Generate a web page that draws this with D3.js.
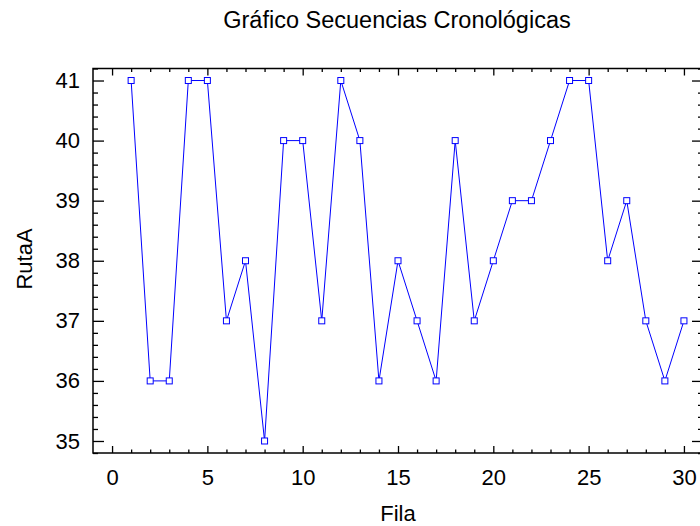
<!DOCTYPE html>
<html>
<head>
<meta charset="utf-8">
<script src="https://cdn.jsdelivr.net/npm/d3@7"></script>
<style>
  body { margin: 0; background: #fff; }
  svg { display: block; }
  svg text { font-family: "Liberation Sans", Arial, sans-serif; fill: #000; }
</style>
</head>
<body>
<div id="chart"></div>
<script>
const rows = d3.range(1, 31);
const rutaA = [41, 36, 36, 41, 41, 37, 38, 35, 40, 40, 37, 41, 40, 36, 38,
               37, 36, 40, 37, 38, 39, 39, 40, 41, 41, 38, 39, 37, 36, 37];
const xTicks = [0, 5, 10, 15, 20, 25, 30];
const yTicks = [35, 36, 37, 38, 39, 40, 41];

const W = 700, H = 526;
const plotL = 93, plotR = 703, plotT = 68.5, plotB = 453;

const svg = d3.select("#chart").append("svg")
  .attr("width", W).attr("height", H);

const x = d3.scaleLinear().domain([-1, 31]).range([plotL, plotR]);
const y = d3.scaleLinear().domain([34.8, 41.2]).range([plotB, plotT]);

const xMinor = d3.range(0, 31).filter((d) => d % 5 !== 0);
const yMinor = d3.range(34.8, 41.21, 0.2).map((d) => +d.toFixed(1)).filter((d) => Math.abs(d - Math.round(d)) > 0.01);

function styleAxis(g) {
  g.select(".domain").remove();
  g.selectAll("line").attr("stroke", "#000").attr("stroke-width", 1.3);
}

// bottom axis
svg.append("g").attr("transform", `translate(0,${plotB})`)
  .call(d3.axisBottom(x).tickValues(xTicks).tickFormat(d3.format("d")).tickSizeInner(-7).tickSizeOuter(0).tickPadding(16))
  .call(styleAxis)
  .selectAll("text").attr("font-size", "22px");
svg.append("g").attr("transform", `translate(0,${plotB})`)
  .call(d3.axisBottom(x).tickValues(xMinor).tickSize(-3.5).tickFormat(""))
  .call(styleAxis);

// top axis
svg.append("g").attr("transform", `translate(0,${plotT})`)
  .call(d3.axisTop(x).tickValues(xTicks).tickSize(-7).tickFormat(""))
  .call(styleAxis);
svg.append("g").attr("transform", `translate(0,${plotT})`)
  .call(d3.axisTop(x).tickValues(xMinor).tickSize(-3.5).tickFormat(""))
  .call(styleAxis);

// left axis
svg.append("g").attr("transform", `translate(${plotL},0)`)
  .call(d3.axisLeft(y).tickValues(yTicks).tickFormat(d3.format("d")).tickSizeInner(-11).tickSizeOuter(0).tickPadding(13))
  .call(styleAxis)
  .selectAll("text").attr("font-size", "22px");
svg.append("g").attr("transform", `translate(${plotL},0)`)
  .call(d3.axisLeft(y).tickValues(yMinor).tickSize(-5).tickFormat(""))
  .call(styleAxis);

// right axis
svg.append("g").attr("transform", `translate(${plotR},0)`)
  .call(d3.axisRight(y).tickValues(yTicks).tickSize(-11).tickFormat(""))
  .call(styleAxis);
svg.append("g").attr("transform", `translate(${plotR},0)`)
  .call(d3.axisRight(y).tickValues(yMinor).tickSize(-5).tickFormat(""))
  .call(styleAxis);

// frame
svg.append("rect")
  .attr("x", plotL).attr("y", plotT)
  .attr("width", plotR - plotL).attr("height", plotB - plotT)
  .attr("fill", "none").attr("stroke", "#000").attr("stroke-width", 1.5);

// series line
const data = rows.map((r, i) => ({ r, v: rutaA[i] }));
svg.append("path")
  .datum(data)
  .attr("fill", "none")
  .attr("stroke", "#0000ff")
  .attr("stroke-width", 1)
  .attr("d", d3.line().x((d) => x(d.r)).y((d) => y(d.v)));

svg.selectAll(".pt")
  .data(data)
  .join("rect")
  .attr("class", "pt")
  .attr("x", (d) => x(d.r) - 3)
  .attr("y", (d) => y(d.v) - 3)
  .attr("width", 6).attr("height", 6)
  .attr("fill", "#fff")
  .attr("stroke", "#0000ff")
  .attr("stroke-width", 1);

// titles
svg.append("text")
  .attr("x", 397).attr("y", 28)
  .attr("text-anchor", "middle")
  .attr("font-size", "23.5px")
  .text("Gráfico Secuencias Cronológicas");

svg.append("text")
  .attr("x", 398).attr("y", 521)
  .attr("text-anchor", "middle")
  .attr("font-size", "22px")
  .text("Fila");

svg.append("text")
  .attr("transform", `translate(32,259) rotate(-90)`)
  .attr("text-anchor", "middle")
  .attr("font-size", "22px")
  .text("RutaA");
</script>
</body>
</html>
